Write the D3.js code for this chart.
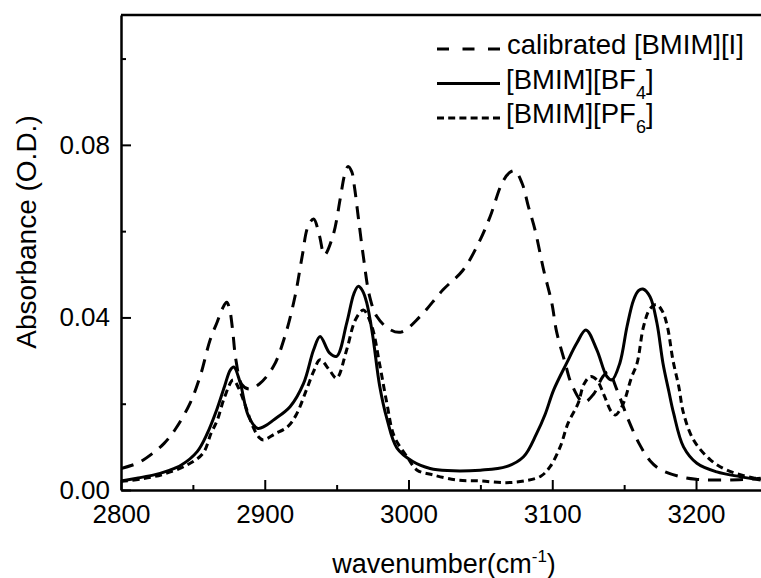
<!DOCTYPE html>
<html>
<head>
<meta charset="utf-8">
<script src="https://cdn.jsdelivr.net/npm/d3@7"></script>
<style>
  body { margin: 0; background: #fff; }
  svg { display: block; font-family: "Liberation Sans", Arial, sans-serif; }
  .axis path, .axis line { stroke: #000; }
  .axis text { font-size: 26px; fill: #000; }
</style>
</head>
<body>
<svg id="chart"></svg>
<script>
// wavenumber (cm-1) / absorbance (O.D.)
const iodideWave = [2800, 2812, 2822, 2830, 2838, 2848, 2855, 2862, 2867, 2870.5, 2873.5, 2875.5, 2877.5, 2880, 2884, 2889, 2896,
  2906, 2914, 2921, 2926, 2930, 2934, 2938, 2941.5, 2947.5, 2952.5, 2955.5, 2958, 2960.5, 2962.5, 2965, 2968.6, 2973, 2978, 2987,
  2995, 3008, 3024, 3038, 3048.7, 3056.8, 3065, 3070, 3074, 3079, 3083.4, 3088, 3094, 3099.7, 3103, 3109, 3113.6,
  3121.7, 3128.7, 3135, 3139, 3145, 3153, 3161, 3168, 3175, 3189, 3200, 3214, 3230, 3245];
const iodideAbs = [0.0050, 0.0063, 0.0085, 0.0108, 0.0142, 0.0201, 0.0263, 0.0348, 0.0390, 0.0420, 0.0435, 0.0420, 0.0375, 0.0300, 0.0245, 0.0234, 0.0245,
  0.0286, 0.0356, 0.0448, 0.0541, 0.0610, 0.0628, 0.0590, 0.0545, 0.0590, 0.0675, 0.0730, 0.0750, 0.0738, 0.0700, 0.0634, 0.0541, 0.0448, 0.0402, 0.0372,
  0.0366, 0.0402, 0.0464, 0.0510, 0.0572, 0.0634, 0.0711, 0.0735, 0.0740, 0.0711, 0.0657, 0.0603, 0.0510, 0.0433, 0.0367, 0.0294, 0.0244,
  0.0203, 0.0222, 0.0262, 0.0274, 0.0232, 0.0162, 0.0104, 0.0068, 0.0048, 0.0031, 0.0025, 0.0023, 0.0024, 0.0027];

const bf4Wave = [2800, 2812, 2823, 2833, 2842, 2853, 2860, 2866.6, 2872, 2876, 2878.5, 2882.8, 2888.6, 2895, 2900, 2906,
  2917.6, 2927, 2934, 2938.5, 2945, 2950, 2957, 2962, 2965, 2968, 2971, 2975, 2980, 2985, 2992, 3003, 3015, 3027, 3050,
  3068, 3080, 3089, 3095, 3101, 3110, 3117, 3123.4, 3131, 3138, 3141.5, 3147, 3152, 3156.5, 3160, 3163, 3168,
  3172.8, 3177, 3181, 3184.4, 3191.3, 3200.6, 3214.5, 3230.5, 3245];
const bf4Abs = [0.0021, 0.0028, 0.0035, 0.0045, 0.0058, 0.0089, 0.0131, 0.0186, 0.0240, 0.0278, 0.0285, 0.0250, 0.0172, 0.0143, 0.0148, 0.0162,
  0.0193, 0.0247, 0.0325, 0.0356, 0.0318, 0.0310, 0.0387, 0.0455, 0.0472, 0.0462, 0.0433, 0.0360, 0.0240, 0.0165, 0.0097, 0.0066, 0.0050, 0.0045, 0.0046,
  0.0054, 0.0077, 0.0130, 0.0175, 0.0232, 0.0294, 0.0340, 0.0371, 0.0325, 0.0263, 0.0255, 0.0294, 0.0379, 0.0440, 0.0462, 0.0466, 0.0448,
  0.0387, 0.0294, 0.0230, 0.0178, 0.0100, 0.0062, 0.0042, 0.0031, 0.0023];

const pf6Wave = [2800, 2815, 2830, 2846, 2857, 2862.6, 2867, 2872, 2878, 2882, 2887.5, 2892, 2896, 2899, 2907,
  2916, 2922, 2929, 2934, 2938.5, 2945, 2950, 2957, 2963, 2968.6, 2974.5, 2980, 2985, 2990, 2999, 3006, 3017,
  3034, 3050, 3068, 3082, 3092, 3098.5, 3105.5, 3111, 3118, 3122, 3126.6, 3131, 3136, 3141, 3144, 3147, 3150,
  3155, 3159, 3163.5, 3168, 3172.5, 3176.5, 3180, 3184, 3188, 3191.3, 3198.3, 3210, 3221.5, 3240, 3245];
const pf6Abs = [0.0020, 0.0026, 0.0037, 0.0058, 0.0085, 0.0131, 0.0162, 0.0215, 0.0255, 0.0235, 0.0186, 0.0145, 0.0122, 0.0116, 0.0130,
  0.0147, 0.0175, 0.0232, 0.0275, 0.0302, 0.0278, 0.0259, 0.0325, 0.0394, 0.0417, 0.0379, 0.0290, 0.0200, 0.0125, 0.0077, 0.0046, 0.0035,
  0.0023, 0.0021, 0.0017, 0.0022, 0.0032, 0.0054, 0.0100, 0.0155, 0.0201, 0.0245, 0.0263, 0.0255, 0.0220, 0.0182, 0.0174, 0.0185, 0.0205,
  0.0260, 0.0294, 0.0379, 0.0420, 0.0430, 0.0415, 0.0380, 0.0300, 0.0240, 0.0178, 0.0116, 0.0070, 0.0046, 0.0028, 0.0026];

const xMajorTicks = [2800, 2900, 3000, 3100, 3200];
const xMinorTicks = [2850, 2950, 3050, 3150];
const yMajorTicks = [0.00, 0.04, 0.08];
const yMinorTicks = [0.02, 0.06, 0.10];

const series = [
  {name: "calibrated [BMIM][I]", base: "calibrated [BMIM][I]", sub: null, wave: iodideWave, abs: iodideAbs, dash: "13,9", legendDash: "12,13.5"},
  {name: "[BMIM][BF4]", base: "[BMIM][BF", sub: "4", wave: bf4Wave, abs: bf4Abs, dash: null, legendDash: null},
  {name: "[BMIM][PF6]", base: "[BMIM][PF", sub: "6", wave: pf6Wave, abs: pf6Abs, dash: "7,4.5", legendDash: "7,4.2"}
];

const W = 761, H = 578;
const margin = {top: 15, right: 0, bottom: 88, left: 121};
const width = W - margin.left - margin.right;
const height = H - margin.top - margin.bottom;

const svg = d3.select("#chart").attr("width", W).attr("height", H);
const chart = svg.append("g").attr("transform", `translate(${margin.left},${margin.top})`);

const x = d3.scaleLinear().domain([2800, 3245.2]).range([0, width]);
const y = d3.scaleLinear().domain([0, 0.1101]).range([height, 0]);

svg.append("defs").append("clipPath").attr("id", "plot-clip")
  .append("rect").attr("x", 0).attr("y", 0).attr("width", width).attr("height", height);

// axes, ticks pointing inward
chart.append("g").attr("class", "axis")
  .attr("transform", `translate(0,${height})`)
  .call(d3.axisBottom(x).tickValues(xMajorTicks).tickSizeInner(-10).tickSizeOuter(0).tickPadding(14.5).tickFormat(d3.format("d")))
  .call(g => g.selectAll("line").attr("stroke-width", 2))
  .call(g => g.select(".domain").attr("stroke-width", 2.5));

chart.append("g").attr("class", "axis")
  .attr("transform", `translate(0,${height})`)
  .call(d3.axisBottom(x).tickValues(xMinorTicks).tickSizeInner(-5).tickSizeOuter(0).tickFormat(""))
  .call(g => g.select(".domain").remove())
  .call(g => g.selectAll("line").attr("stroke-width", 2));

chart.append("g").attr("class", "axis")
  .call(d3.axisLeft(y).tickValues(yMajorTicks).tickSizeInner(-10).tickSizeOuter(0).tickPadding(11).tickFormat(d3.format(".2f")))
  .call(g => g.selectAll("line").attr("stroke-width", 2))
  .call(g => g.select(".domain").attr("stroke-width", 2.5));

chart.append("g").attr("class", "axis")
  .call(d3.axisLeft(y).tickValues(yMinorTicks).tickSizeInner(-5).tickSizeOuter(0).tickFormat(""))
  .call(g => g.select(".domain").remove())
  .call(g => g.selectAll("line").attr("stroke-width", 2));

// top frame line
chart.append("line")
  .attr("x1", 0).attr("x2", width).attr("y1", 0).attr("y2", 0)
  .attr("stroke", "#000").attr("stroke-width", 2.5);

// curves
const line = d3.line()
  .x(d => x(d[0]))
  .y(d => y(d[1]))
  .curve(d3.curveCatmullRom.alpha(0.5));

chart.append("g").attr("clip-path", "url(#plot-clip)")
  .selectAll("path.curve")
  .data(series)
  .join("path")
    .attr("class", "curve")
    .attr("fill", "none")
    .attr("stroke", "#000")
    .attr("stroke-width", 3)
    .attr("stroke-dasharray", d => d.dash)
    .attr("d", d => line(d.wave.map((w, i) => [w, d.abs[i]])));

// legend
const legend = svg.append("g").attr("transform", "translate(437,49)");
const rows = legend.selectAll("g").data(series).join("g")
  .attr("transform", (d, i) => `translate(0,${i * 34.5})`);
rows.append("line")
  .attr("x1", 0).attr("x2", 63).attr("y1", 0).attr("y2", 0)
  .attr("stroke", "#000").attr("stroke-width", 3)
  .attr("stroke-dasharray", d => d.legendDash);
const labels = rows.append("text")
  .attr("x", d => d.sub ? 69 : 70)
  .attr("y", 5)
  .style("font-size", "27.5px");
labels.append("tspan").text(d => d.base);
labels.filter(d => d.sub).append("tspan")
  .attr("dy", 10).style("font-size", "18px").text(d => d.sub);
labels.filter(d => d.sub).append("tspan")
  .attr("dy", -10).text("]");

// axis titles
const xTitle = svg.append("text")
  .attr("x", 444).attr("y", 573)
  .attr("text-anchor", "middle")
  .style("font-size", "27px");
xTitle.append("tspan").text("wavenumber(cm");
xTitle.append("tspan").attr("dy", -11).style("font-size", "17px").text("-1");
xTitle.append("tspan").attr("dy", 11).text(")");

svg.append("text")
  .attr("transform", "translate(36,232) rotate(-90)")
  .attr("text-anchor", "middle")
  .style("font-size", "28px")
  .text("Absorbance (O.D.)");
</script>
</body>
</html>
